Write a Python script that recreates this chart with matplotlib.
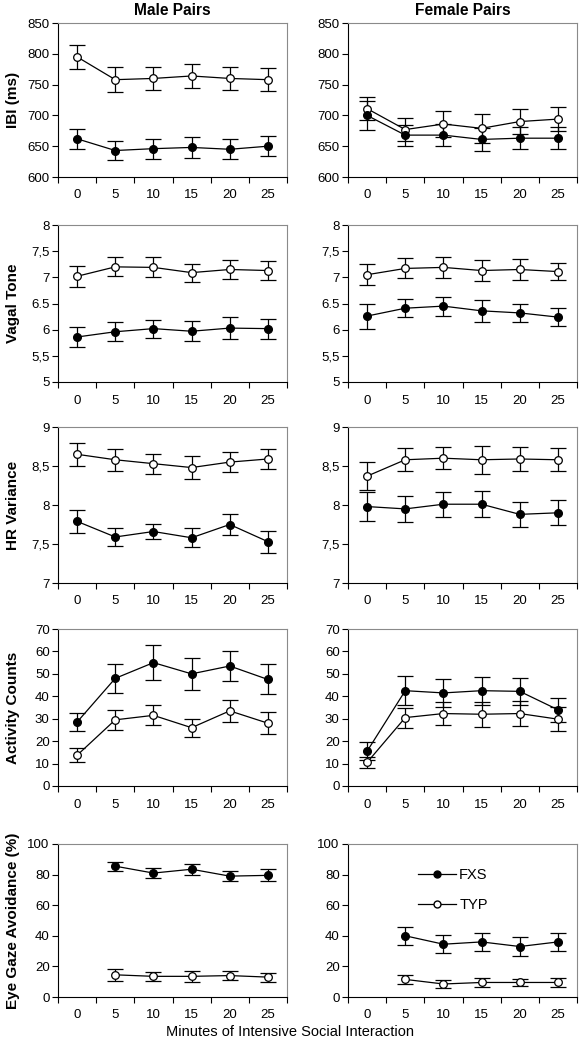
import numpy as np
import matplotlib
matplotlib.use('Agg')
import matplotlib.pyplot as plt
from matplotlib.lines import Line2D

plt.rcParams['font.family'] = ['Liberation Sans', 'DejaVu Sans']

minutes = ['0', '5', '10', '15', '20', '25']

# IBI (ms)
ibi_m_typ = [795, 758, 760, 764, 760, 758]
ibi_m_typ_err = [20, 20, 19, 20, 18, 19]
ibi_m_fxs = [662, 643, 646, 648, 645, 650]
ibi_m_fxs_err = [16, 15, 16, 17, 16, 16]
ibi_f_typ = [711, 677, 686, 679, 690, 694]
ibi_f_typ_err = [19, 18, 21, 23, 21, 20]
ibi_f_fxs = [700, 668, 668, 661, 663, 663]
ibi_f_fxs_err = [23, 17, 18, 18, 18, 18]

# vagal tone
vt_m_typ = [7.02, 7.20, 7.19, 7.09, 7.15, 7.13]
vt_m_typ_err = [0.20, 0.18, 0.19, 0.17, 0.18, 0.18]
vt_m_fxs = [5.86, 5.96, 6.02, 5.97, 6.03, 6.02]
vt_m_fxs_err = [0.19, 0.18, 0.17, 0.19, 0.21, 0.19]
vt_f_typ = [7.05, 7.17, 7.19, 7.13, 7.15, 7.11]
vt_f_typ_err = [0.20, 0.19, 0.20, 0.20, 0.20, 0.17]
vt_f_fxs = [6.26, 6.41, 6.45, 6.36, 6.32, 6.24]
vt_f_fxs_err = [0.24, 0.17, 0.18, 0.21, 0.18, 0.17]

# HR variance
hr_m_typ = [8.65, 8.58, 8.53, 8.48, 8.55, 8.59]
hr_m_typ_err = [0.15, 0.14, 0.13, 0.15, 0.13, 0.13]
hr_m_fxs = [7.79, 7.59, 7.66, 7.58, 7.75, 7.53]
hr_m_fxs_err = [0.15, 0.12, 0.10, 0.12, 0.13, 0.14]
hr_f_typ = [8.37, 8.58, 8.60, 8.58, 8.59, 8.58]
hr_f_typ_err = [0.18, 0.15, 0.14, 0.18, 0.16, 0.15]
hr_f_fxs = [7.98, 7.95, 8.01, 8.01, 7.88, 7.90]
hr_f_fxs_err = [0.19, 0.17, 0.16, 0.17, 0.16, 0.16]

# activity counts
ac_m_fxs = [28.5, 48, 55, 50, 53.5, 47.5]
ac_m_fxs_err = [4, 6.5, 7.8, 7, 6.5, 6.7]
ac_m_typ = [13.7, 29.5, 31.5, 26, 33.5, 28]
ac_m_typ_err = [3.2, 4.5, 4.5, 4, 5, 5]
ac_f_fxs = [15.5, 42.5, 41.5, 42.5, 42.2, 34]
ac_f_fxs_err = [4, 6.5, 6.3, 6.2, 6, 5.3]
ac_f_typ = [10.5, 30.5, 32.3, 32, 32.3, 29.8]
ac_f_typ_err = [2.3, 4.5, 5.3, 5.5, 5.4, 5.5]

# eye gaze avoidance (no value at minute 0)
eg_m_fxs = [np.nan, 85.5, 81, 83.5, 79, 79.5]
eg_m_fxs_err = [0, 3, 3.5, 3.5, 3.5, 4]
eg_m_typ = [np.nan, 14.5, 13.5, 13.5, 14, 13]
eg_m_typ_err = [0, 4, 3, 3.5, 3, 3]
eg_f_fxs = [np.nan, 40, 34.5, 36, 33, 36]
eg_f_fxs_err = [0, 6, 6, 6, 6, 6]
eg_f_typ = [np.nan, 11.5, 8.5, 9.5, 9.5, 9.5]
eg_f_typ_err = [0, 3, 2.5, 3, 2.5, 3]

rows = [
    ('IBI (ms)', (600, 850), [600, 650, 700, 750, 800, 850], None,
     (ibi_m_fxs, ibi_m_fxs_err, ibi_m_typ, ibi_m_typ_err),
     (ibi_f_fxs, ibi_f_fxs_err, ibi_f_typ, ibi_f_typ_err)),
    ('Vagal Tone', (5, 8), [5, 5.5, 6, 6.5, 7, 7.5, 8], ['5', '5,5', '6', '6.5', '7', '7,5', '8'],
     (vt_m_fxs, vt_m_fxs_err, vt_m_typ, vt_m_typ_err),
     (vt_f_fxs, vt_f_fxs_err, vt_f_typ, vt_f_typ_err)),
    ('HR Variance', (7, 9), [7, 7.5, 8, 8.5, 9], ['7', '7,5', '8', '8,5', '9'],
     (hr_m_fxs, hr_m_fxs_err, hr_m_typ, hr_m_typ_err),
     (hr_f_fxs, hr_f_fxs_err, hr_f_typ, hr_f_typ_err)),
    ('Activity Counts', (0, 70), [0, 10, 20, 30, 40, 50, 60, 70], None,
     (ac_m_fxs, ac_m_fxs_err, ac_m_typ, ac_m_typ_err),
     (ac_f_fxs, ac_f_fxs_err, ac_f_typ, ac_f_typ_err)),
    ('Eye Gaze Avoidance (%)', (0, 100), [0, 20, 40, 60, 80, 100], None,
     (eg_m_fxs, eg_m_fxs_err, eg_m_typ, eg_m_typ_err),
     (eg_f_fxs, eg_f_fxs_err, eg_f_typ, eg_f_typ_err)),
]

W, H = 579, 1050
fig = plt.figure(figsize=(W / 100, H / 100), dpi=100)

col_left = [58, 348]
col_w = 229
row_px = [(23, 177), (225, 382), (427, 583), (629, 786), (844, 997)]

x = np.arange(len(minutes))


def draw(ax, data, ylim, yticks, ylabels):
    fxs, fxs_err, typ, typ_err = data
    kw = dict(color='black', lw=0.9, capsize=5.5, capthick=0.9, elinewidth=0.9, ms=5.5, marker='o')
    ax.errorbar(x, typ, yerr=typ_err, mfc='white', mec='black', mew=0.9, **kw)
    ax.errorbar(x, fxs, yerr=fxs_err, mfc='black', mec='black', **kw)
    ax.set_xlim(-0.5, 5.5)
    ax.set_ylim(*ylim)
    ax.set_yticks(yticks)
    if ylabels is not None:
        ax.set_yticklabels(ylabels)
    ax.set_xticks(np.arange(-0.5, 6, 1))
    ax.set_xticklabels([])
    ax.set_xticks(x, minor=True)
    ax.set_xticklabels(minutes, minor=True)
    ax.tick_params(axis='x', which='major', direction='out', length=4, width=0.8)
    ax.tick_params(axis='x', which='minor', length=0, pad=9, labelsize=9.5)
    ax.tick_params(axis='y', direction='out', length=4, width=0.8, labelsize=9.5, pad=2)
    for s in ['top', 'right']:
        ax.spines[s].set_color('#8a8a8a')
        ax.spines[s].set_linewidth(0.8)
    for s in ['left', 'bottom']:
        ax.spines[s].set_color('black')
        ax.spines[s].set_linewidth(0.8)


for r, (ylab, ylim, yticks, ylabels, male, female) in enumerate(rows):
    top, bot = row_px[r]
    for c, data in enumerate([male, female]):
        ax = fig.add_axes([col_left[c] / W, 1 - bot / H, col_w / W, (bot - top) / H])
        draw(ax, data, ylim, yticks, ylabels)
        if c == 0:
            ax.set_ylabel(ylab, fontsize=11, fontweight='bold')
            ax.yaxis.set_label_coords(-0.165, 0.5)
        if r == 0:
            ax.set_title('Male Pairs' if c == 0 else 'Female Pairs', fontsize=11.2,
                         fontweight='bold', pad=6)
        if r == 4 and c == 1:
            h = [Line2D([], [], color='black', lw=0.9, marker='o', ms=5, mfc='black'),
                 Line2D([], [], color='black', lw=0.9, marker='o', ms=5, mfc='white')]
            ax.legend(h, ['FXS', 'TYP'], loc='upper left', bbox_to_anchor=(0.25, 0.93),
                      frameon=False, fontsize=10.5, labelspacing=1.1,
                      handlelength=2.6, handletextpad=0.2)

fig.text(0.5, 1 - 1032 / H, 'Minutes of Intensive Social Interaction', ha='center', va='center',
         fontsize=10.5)

fig.savefig('out.png', dpi=100)
